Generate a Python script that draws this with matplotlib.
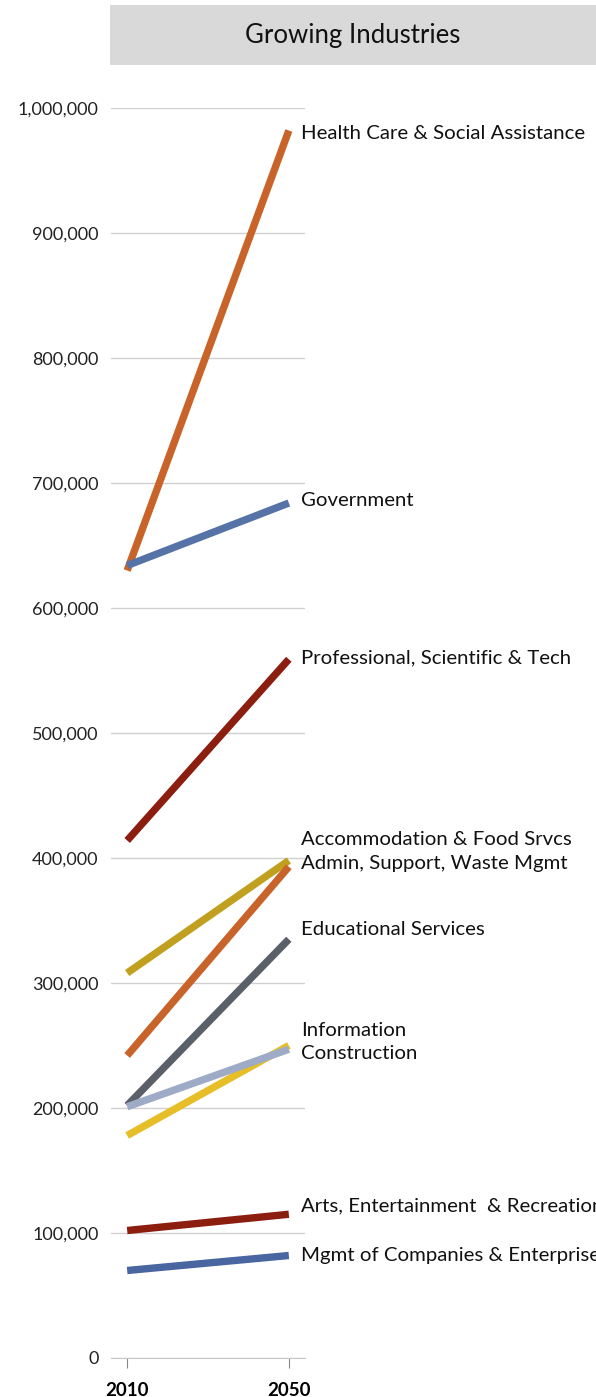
import matplotlib
matplotlib.use("Agg")
from matplotlib import pyplot
from matplotlib.ticker import FuncFormatter

years = ["2010", "2050"]
industries = [
    "Health Care & Social Assistance",
    "Government",
    "Professional, Scientific & Tech",
    "Accommodation & Food Srvcs",
    "Admin, Support, Waste Mgmt",
    "Educational Services",
    "Information",
    "Construction",
    "Arts, Entertainment  & Recreation",
    "Mgmt of Companies & Enterprises",
]
jobs_2010 = [630000, 634000, 414000, 308000, 242000, 202000, 178000, 201000, 102000, 70000]
jobs_2050 = [982000, 684000, 559000, 398000, 393000, 335000, 250000, 247000, 115000, 82000]
colors = ["#C8642A", "#5673A8", "#8B1E0E", "#C1A020", "#C8642A",
          "#5A6068", "#E6BE28", "#9EABC6", "#8C1E10", "#4A66A0"]
# vertical nudge of each end label, in points
label_nudge = [-2, 2, 1, 15, 2, 7, 11, -3, 6, 0]

pyplot.rcParams["font.family"] = ["Lato", "DejaVu Sans"]

fig = pyplot.figure(figsize=(5.96, 13.97), dpi=100)
ax = fig.add_axes([111 / 596, 1 - 1358 / 1397, 194 / 596, 1250 / 1397])

# title box
fig.patches.append(pyplot.Rectangle((110 / 596, 1 - 65 / 1397), 486 / 596, 60 / 1397,
                                    transform=fig.transFigure, facecolor="#D9D9D9",
                                    edgecolor="none"))
fig.text(353 / 596, 1 - 35 / 1397, "Growing Industries", ha="center", va="center",
         fontsize=18.5, color="#111111")

for name, a, b, c, dy in zip(industries, jobs_2010, jobs_2050, colors, label_nudge):
    ax.plot([0, 1], [a, b], color=c, linewidth=5.3, solid_capstyle="butt", clip_on=False, zorder=3)
    ax.annotate(name, xy=(1, b), xytext=(9, dy), textcoords="offset points",
                ha="left", va="center", fontsize=14.7, color="#111111", annotation_clip=False)

ax.set_xlim(-0.1, 1.1)
ax.set_ylim(0, 1000000)
ax.set_yticks(range(0, 1000001, 100000))
ax.yaxis.set_major_formatter(FuncFormatter(lambda v, p: "{:,.0f}".format(v)))
ax.set_xticks([0, 1])
ax.set_xticklabels(years, fontweight="bold", fontsize=13.5)
ax.grid(axis="y", color="#D0D0D0", linewidth=1)
ax.set_axisbelow(True)
for s in ["top", "right", "left"]:
    ax.spines[s].set_visible(False)
ax.spines["bottom"].set_color("#C8C8C8")
ax.tick_params(axis="y", length=0, labelsize=13, pad=9, labelcolor="#222222")
ax.tick_params(axis="x", length=7, color="#888888", pad=10)
ax.patch.set_visible(False)

fig.savefig("out.png", dpi=100)
